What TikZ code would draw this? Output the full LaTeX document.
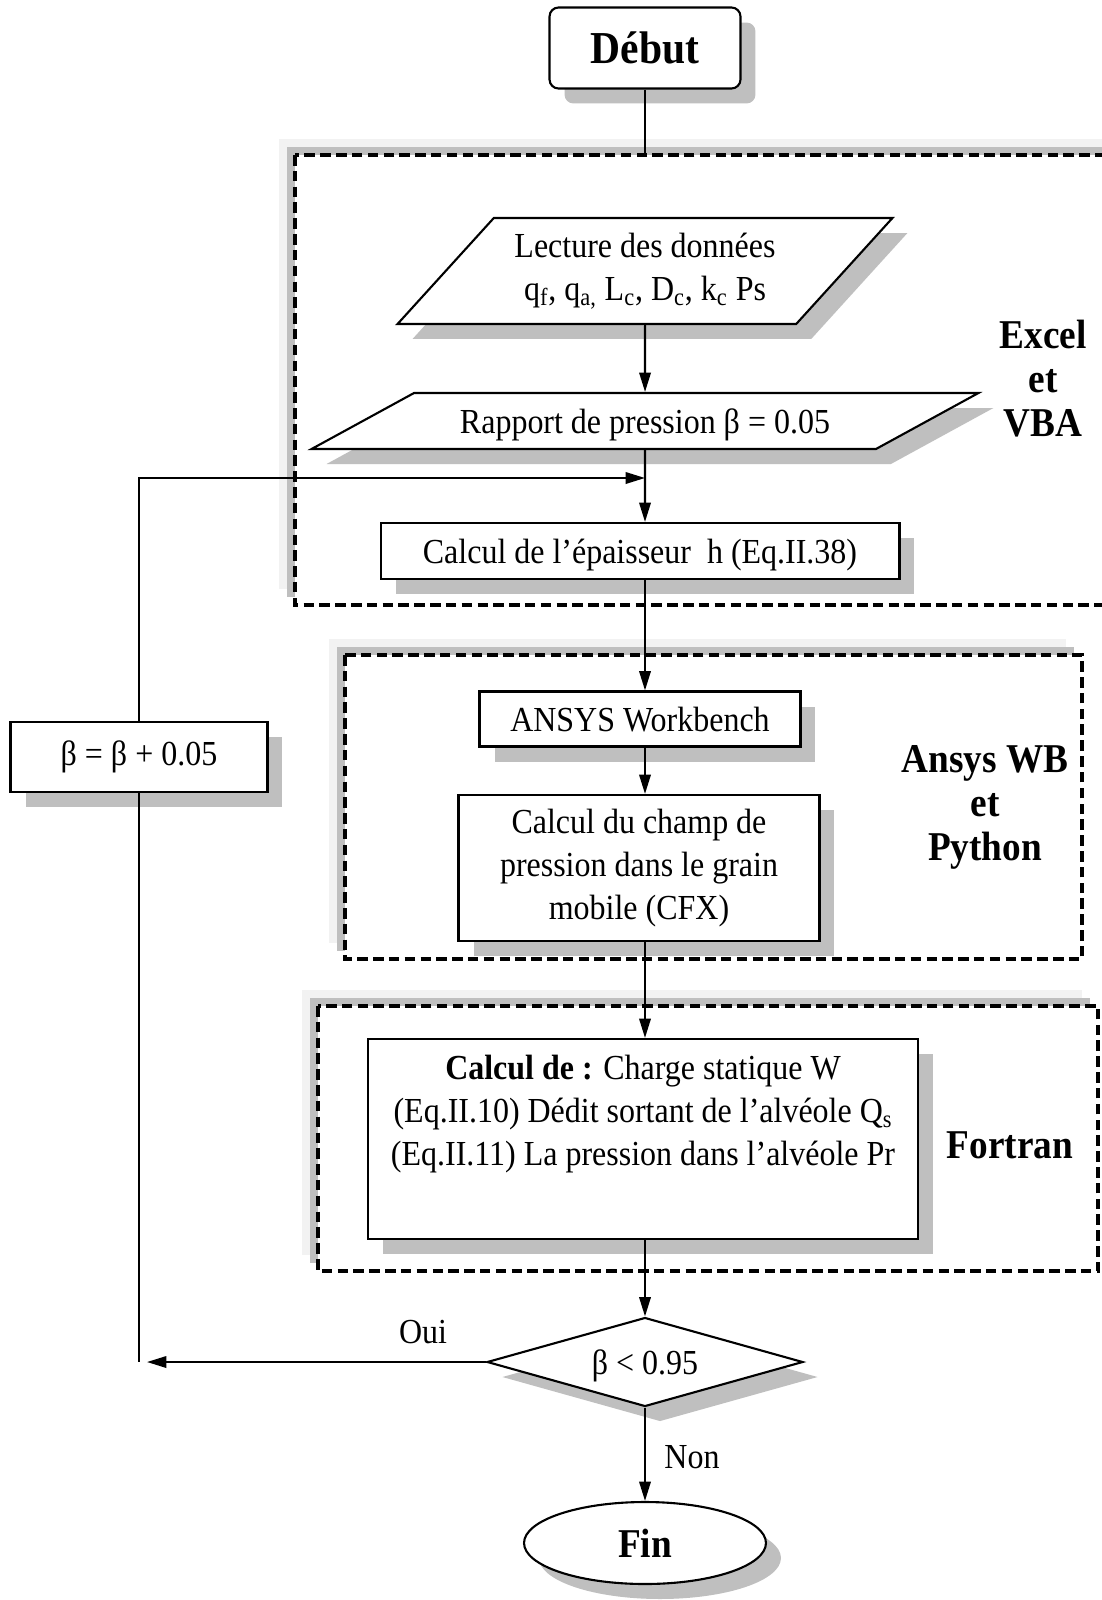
\documentclass[tikz,border=0pt]{standalone}
\usepackage{fontspec}
\setmainfont{Liberation Serif}[FakeStretch=0.91]
\usetikzlibrary{arrows.meta,shapes.geometric,shadows}

\newcommand{\txtsize}{\fontsize{20pt}{24.4pt}\selectfont}
\newcommand{\lblsize}{\fontsize{23.3pt}{25pt}\selectfont\bfseries}
\newcommand{\topsize}{\fontsize{26pt}{30pt}\selectfont\bfseries}

\tikzset{
  shade/.style={drop shadow={shadow xshift=0.3cm, shadow yshift=-0.3cm, fill=gray!50, opacity=1}},
  proc/.style={draw, line width=1.2pt, fill=white, shade, font=\txtsize, align=center, inner sep=0pt},
  oneline/.style={text height=14pt, text depth=0pt},
  io/.style={proc, trapezium, trapezium stretches body},
  grp/.style={draw, line width=1.8pt, dash pattern=on 6pt off 3pt, fill=white},
  flow/.style={line width=1.2pt, -{Triangle[length=11pt,width=6.5pt]}},
  link/.style={line width=1.2pt},
  tag/.style={font=\lblsize, align=center},
}

\begin{document}
\begin{tikzpicture}[x=0.02cm, y=-0.02cm]
\useasboundingbox (0,0) rectangle (1102,1600);

% cadres Excel / Ansys / Fortran
\begin{scope}
\clip (0,0) rectangle (1102,1600);
\foreach \xa/\ya/\xb/\yb in {295/155/1120/605, 345/655/1082/959, 318/1006/1098/1271}{
  \fill[gray!10] (\xa-16,\ya-16) rectangle (\xb-16,\yb-16);
  \fill[gray!50] (\xa-8,\ya-8) rectangle (\xb-8,\yb-8);
  \draw[grp] (\xa,\ya) rectangle (\xb,\yb);
}
\end{scope}

\node[proc, rounded corners=0.18cm, minimum width=3.82cm, minimum height=1.62cm, font=\topsize] (debut) at (645,48) {Début};
\node[io, trapezium left angle=38.5, trapezium right angle=141.5, minimum width=9.9cm, minimum height=2.12cm] (lecture) at (645,271)
  {Lecture des données\\ q\textsubscript{f}, q\textsubscript{a,} L\textsubscript{c}, D\textsubscript{c}, k\textsubscript{c} Ps};
\node[io, oneline, trapezium left angle=13.5, trapezium right angle=166.5, minimum width=13.34cm, minimum height=1.12cm] (rapport) at (645,421)
  {Rapport de pression β = 0.05};
\node[proc, oneline, minimum width=10.38cm, minimum height=1.12cm] (epaisseur) at (640,551) {Calcul de l’épaisseur \ h (Eq.II.38)};
\node[proc, oneline, minimum width=6.42cm, minimum height=1.1cm] (ansys) at (640,719) {ANSYS Workbench};
\node[proc, minimum width=7.22cm, minimum height=2.92cm] (champ) at (639,868) {Calcul du champ de\\ pression dans le grain\\ mobile (CFX)};
\node[proc] (charge) at (643,1139) {\parbox[c][4cm][t]{11cm}{\centering\rule{0pt}{23pt}\textbf{Calcul de :} Charge statique W\\
  (Eq.II.10) Dédit sortant de l’alvéole Q\textsubscript{s}\\
  (Eq.II.11) La pression dans l’alvéole Pr}};
\node[proc, oneline, diamond, aspect=3.55, minimum width=6.32cm, minimum height=1.78cm] (test) at (645,1362) {β < 0.95};
\node[proc, ellipse, minimum width=4.84cm, minimum height=1.64cm, font=\lblsize] (fin) at (645,1543) {Fin};
\node[proc, minimum width=5.14cm, minimum height=1.4cm] (increment) at (139,757) {β = β + 0.05};

\node[tag] (excel)   at (1043,379)  {Excel\\ et\\ VBA};
\node[tag] (ansyswb) at (985,807)   {Ansys WB\\ et\\ Python};
\node[tag] (fortran) at (1010,1145) {Fortran};
\node[font=\txtsize] (oui) at (423,1332) {Oui};
\node[font=\txtsize] (non) at (692,1457) {Non};

\coordinate (entree) at (645,155);
\coordinate (merge)  at (645,478);
\coordinate (retour) at (147,1362);
\coordinate (coin)   at (139,1362);

\draw[link] (debut) -- (entree);
\draw[flow] (lecture) -- (rapport);
\draw[flow] (rapport) -- (rapport |- epaisseur.north);
\draw[flow] (increment) |- (merge);
\draw[flow] (epaisseur.south -| rapport) -- (rapport |- ansys.north);
\draw[flow] (ansys.south -| rapport) -- (rapport |- champ.north);
\draw[flow] (champ.south -| rapport) -- (rapport |- charge.north);
\draw[flow] (charge.south -| rapport) -- (test);
\draw[flow] (test) -- (fin);
\draw[flow] (test) -- (retour);
\draw[link] (increment) -- (coin);
\end{tikzpicture}
\end{document}
